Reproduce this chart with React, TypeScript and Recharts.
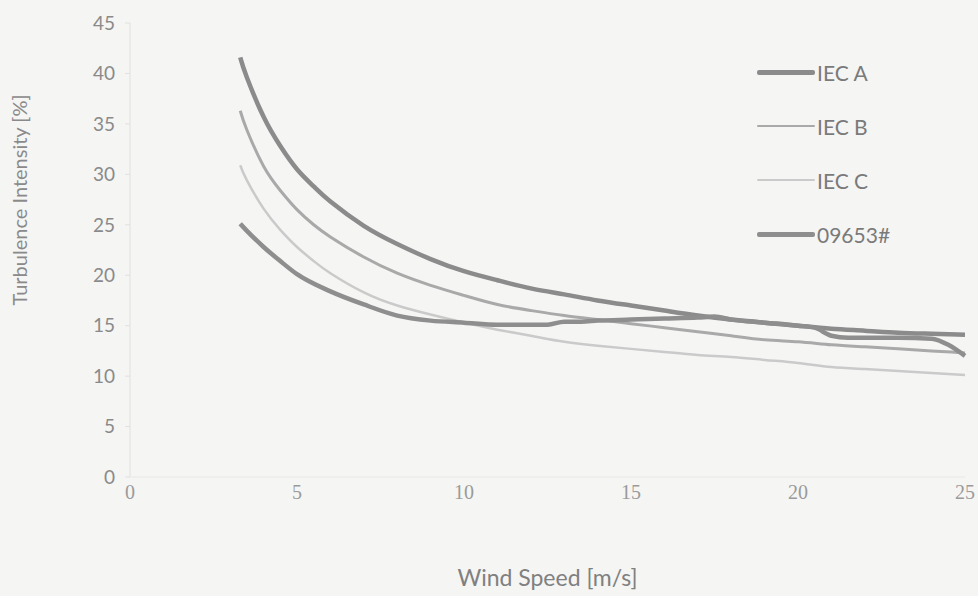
import { LineChart, Line, XAxis, YAxis, Legend } from 'recharts'

// wind speed bins (m/s) used for the IEC reference curves
const SPEED = [3.3, 3.5, 4, 4.5, 5, 5.5, 6, 7, 8, 9, 10, 11, 12, 13, 14, 15, 16, 17, 18, 19, 20, 21, 22, 23, 24, 25]
const IEC_A = [41.6, 39.6, 35.7, 32.8, 30.5, 28.8, 27.3, 24.9, 23.1, 21.6, 20.4, 19.5, 18.7, 18.1, 17.5, 17.0, 16.5, 16.0, 15.6, 15.3, 15.0, 14.7, 14.5, 14.3, 14.2, 14.1]
const IEC_B = [36.3, 34.4, 30.8, 28.4, 26.5, 25.0, 23.8, 21.8, 20.2, 19.0, 18.0, 17.1, 16.5, 16.0, 15.6, 15.2, 14.8, 14.4, 14.0, 13.6, 13.4, 13.1, 12.9, 12.7, 12.5, 12.3]
const IEC_C = [30.9, 29.4, 26.6, 24.5, 22.8, 21.4, 20.2, 18.3, 17.0, 16.1, 15.3, 14.6, 14.0, 13.4, 13.0, 12.7, 12.4, 12.1, 11.9, 11.6, 11.3, 10.9, 10.7, 10.5, 10.3, 10.1]

// measured turbine 09653#
const MEAS_SPEED = [3.3, 3.5, 4, 4.5, 5, 6, 7, 8, 9, 10, 11, 12, 12.5, 13, 13.5, 14, 15, 16, 17, 17.5, 18, 19, 20, 20.5, 21, 21.5, 22, 23, 24, 24.5, 25]
const MEAS_TI = [25.1, 24.4, 22.8, 21.4, 20.1, 18.4, 17.1, 16.0, 15.5, 15.3, 15.1, 15.1, 15.1, 15.4, 15.4, 15.5, 15.6, 15.7, 15.8, 15.9, 15.6, 15.3, 15.0, 14.8, 14.0, 13.8, 13.8, 13.8, 13.7, 13.1, 12.0]

const X_TICKS = [0, 5, 10, 15, 20, 25]
const Y_TICKS = [0, 5, 10, 15, 20, 25, 30, 35, 40, 45]

const SERIES = [
  { name: 'IEC A', xs: SPEED, ys: IEC_A, color: '#8b8b8b', width: 4.5, legendWidth: 5, curve: 'natural' },
  { name: 'IEC B', xs: SPEED, ys: IEC_B, color: '#a9a9a9', width: 3, legendWidth: 2, curve: 'natural' },
  { name: 'IEC C', xs: SPEED, ys: IEC_C, color: '#cacaca', width: 2.5, legendWidth: 2, curve: 'natural' },
  { name: '09653#', xs: MEAS_SPEED, ys: MEAS_TI, color: '#8e8e8e', width: 4.5, legendWidth: 5, curve: 'monotone' },
]

const SANS = 'Lato, "Open Sans", sans-serif'

const renderLegend = () => (
  <div style={{ fontFamily: SANS }}>
    {SERIES.map((s) => (
      <div key={s.name} style={{ display: 'flex', alignItems: 'center', height: 54 }}>
        <div style={{ width: 58, height: s.legendWidth, background: s.color, borderRadius: 2 }} />
        <span style={{ fontSize: 21, color: '#7a7a7a', marginLeft: 2 }}>{s.name}</span>
      </div>
    ))}
  </div>
)

export default function App() {
  return (
    <div style={{ position: 'absolute', left: 0, top: 0, width: 978, height: 596, background: '#f5f5f4' }}>
      <LineChart width={978} height={596} margin={{ top: 23, right: 13, left: 70, bottom: 4 }}>
        <XAxis
          type="number"
          dataKey="x"
          domain={[0, 25]}
          ticks={X_TICKS}
          allowDuplicatedCategory={false}
          axisLine={{ stroke: '#e8e8e8' }}
          tickLine={false}
          tickSize={0}
          tickMargin={8}
          height={115}
          tick={{ fontSize: 20, fill: '#9a9a9a', fontFamily: '"Liberation Serif", serif' }}
          label={{
            value: 'Wind Speed [m/s]',
            position: 'insideBottom',
            offset: 6,
            style: { fontSize: 23, fill: '#808080', fontFamily: SANS },
          }}
        />
        <YAxis
          type="number"
          domain={[0, 45]}
          ticks={Y_TICKS}
          width={60}
          axisLine={{ stroke: '#e0e0e0' }}
          tickLine={{ stroke: '#e0e0e0' }}
          tickSize={5}
          tickMargin={10}
          tick={{ fontSize: 19, fill: '#8a8a8a', fontFamily: SANS }}
          label={{
            content: () => (
              <text
                x={22}
                y={200}
                transform="rotate(-90 22 200)"
                textAnchor="middle"
                dominantBaseline="middle"
                fontSize={20}
                fill="#8a8a8a"
                fontFamily={SANS}
              >
                Turbulence Intensity [%]
              </text>
            ),
          }}
        />
        <Legend
          layout="vertical"
          align="center"
          verticalAlign="middle"
          content={renderLegend}
          wrapperStyle={{ position: 'absolute', left: 757, top: 45, width: 200, height: 220 }}
        />
        {SERIES.map((s) => (
          <Line
            key={s.name}
            name={s.name}
            data={s.xs.map((x, i) => ({ x, y: s.ys[i] }))}
            dataKey="y"
            type={s.curve as 'natural' | 'monotone'}
            stroke={s.color}
            strokeWidth={s.width}
            dot={false}
            isAnimationActive={false}
          />
        ))}
      </LineChart>
    </div>
  )
}
